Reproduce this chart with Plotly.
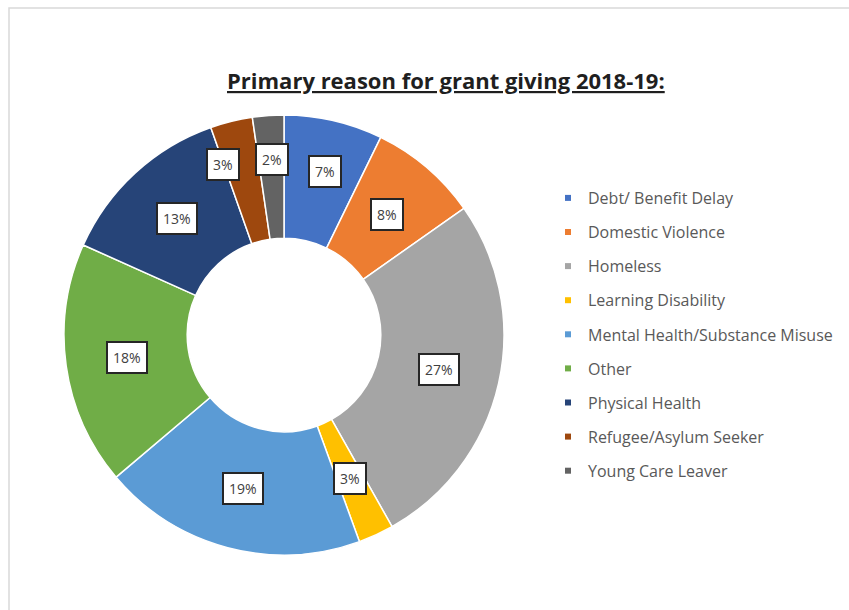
import math
import plotly.graph_objects as go

categories = ["Debt/ Benefit Delay", "Domestic Violence", "Homeless", "Learning Disability",
              "Mental Health/Substance Misuse", "Other", "Physical Health",
              "Refugee/Asylum Seeker", "Young Care Leaver"]
values = [7.25, 8.0, 26.6, 2.6, 19.4, 17.9, 12.9, 3.1, 2.3]
colors = ["#4472C4", "#ED7D31", "#A5A5A5", "#FFC000", "#5B9BD5",
          "#70AD47", "#264478", "#9E480E", "#636363"]
title_text = "Primary reason for grant giving 2018-19:"

W, H = 849, 610
CX, CY, R = 284, 335, 220
HOLE = 0.44
FONT = "Open Sans"

# Excel moved a few crowded labels off the ring centre (pixel shifts)
label_shift = {0: (5, -9), 7: (-23, -17), 8: (-1, -18)}

fig = go.Figure()
fig.add_trace(go.Pie(
    labels=categories, values=values, sort=False, direction="clockwise", rotation=0,
    hole=HOLE, marker=dict(colors=colors, line=dict(color="white", width=1.5)),
    textinfo="none", showlegend=False, hoverinfo="label+percent",
    domain=dict(x=[(CX - R) / W, (CX + R) / W], y=[1 - (CY + R) / H, 1 - (CY - R) / H]),
))

# legend entries
for i, (c, col) in enumerate(zip(categories, colors)):
    fig.add_trace(go.Scatter(x=[None], y=[None], mode="markers", name=c,
                             legendgroup=f"g{i}",
                             marker=dict(symbol="square", size=6, color=col)))

# boxed data labels at ring middle, derived from the values
total = sum(values)
r_lab = R * (1 + HOLE) / 2
cum = 0
annotations = []
for i, v in enumerate(values):
    mid = (cum + v / 2) / total * 2 * math.pi
    cum += v
    px = CX + r_lab * math.sin(mid)
    py = CY - r_lab * math.cos(mid)
    sx, sy = label_shift.get(i, (0, 0))
    annotations.append(dict(
        x=px / W, y=1 - py / H, xref="paper", yref="paper", showarrow=False,
        xshift=sx, yshift=-sy,
        text=f"{round(v / total * 100)}%", font=dict(family=FONT, size=14, color="#404040"),
        bgcolor="white", bordercolor="#262626", borderwidth=2, borderpad=5,
        xanchor="center", yanchor="middle"))

annotations.append(dict(
    x=446 / W, y=1 - 80 / H, xref="paper", yref="paper", showarrow=False,
    text=f"<b><u>{title_text}</u></b>", font=dict(family=FONT, size=22, color="#1F1F1F"),
    xanchor="center", yanchor="middle"))

fig.update_layout(
    width=W, height=H, margin=dict(l=0, r=0, t=0, b=0),
    paper_bgcolor="white", plot_bgcolor="white",
    xaxis=dict(visible=False), yaxis=dict(visible=False),
    annotations=annotations,
    legend=dict(x=548 / W, y=1 - 181 / H, xanchor="left", yanchor="top",
                traceorder="grouped", tracegroupgap=10.3,
                font=dict(family=FONT, size=16, color="#595959")),
    shapes=[dict(type="rect", xref="paper", yref="paper", x0=9 / W, x1=1.2,
                 y0=-0.2, y1=1 - 8 / H, line=dict(color="#D9D9D9", width=1.5),
                 layer="below")],
)

fig.write_html("out.html", config={"displayModeBar": False},
               post_script="document.body.style.margin='0';")
